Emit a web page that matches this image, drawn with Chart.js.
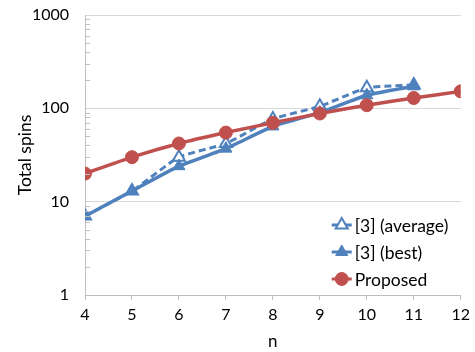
<!DOCTYPE html>
<html lang="en">
  <head>
    <meta charset="UTF-8" />
    <title>Total spins</title>
    <style>
      body { margin: 0; background: white; }
      #wrap { width: 475px; height: 352px; }
    </style>
    <script src="https://cdn.jsdelivr.net/npm/chart.js@4.4.0/dist/chart.umd.min.js"></script>
  </head>
  <body>
    <div id="wrap"><canvas id="spinsChart"></canvas></div>
    <script>
      var nValues = [4, 5, 6, 7, 8, 9, 10, 11, 12];
      var averageSpins = [7, 13, 30, 42, 77, 105, 166, 178];
      var bestSpins = [7, 13, 24, 37, 64, 90, 138, 172];
      var proposedSpins = [20, 30, 42, 55, 70, 88, 108, 129, 152];
      var yTickLabels = [1, 10, 100, 1000];

      var blue = "#4f81bd";
      var red = "#c0504d";
      var fontFamily = "Lato, 'Open Sans', sans-serif";

      function toPoints(values) {
        return values.map((v, i) => ({ x: nValues[i], y: v }));
      }

      // small ticks inside the y axis for 2..9 of each decade
      var minorTicks = {
        id: "minorTicks",
        afterDraw(chart) {
          var ctx = chart.ctx;
          var y = chart.scales.y;
          var left = chart.chartArea.left;
          ctx.save();
          ctx.strokeStyle = "#bfbfbf";
          ctx.lineWidth = 1;
          for (var d = 1; d < 1000; d *= 10) {
            for (var k = 2; k < 10; k++) {
              var py = Math.round(y.getPixelForValue(d * k)) + 0.5;
              ctx.beginPath();
              ctx.moveTo(left, py);
              ctx.lineTo(left + 5, py);
              ctx.stroke();
            }
          }
          ctx.restore();
        },
      };

      var insideLegend = {
        id: "insideLegend",
        afterDraw(chart) {
          var ctx = chart.ctx;
          var area = chart.chartArea;
          var x0 = area.right - 129;
          var rows = [area.bottom - 70, area.bottom - 43, area.bottom - 16];
          ctx.save();
          chart.data.datasets.forEach((ds, i) => {
            var cy = rows[i];
            ctx.strokeStyle = ds.borderColor;
            ctx.lineWidth = 3;
            ctx.setLineDash([]);
            ctx.beginPath();
            ctx.moveTo(x0, cy);
            ctx.lineTo(x0 + 20, cy);
            ctx.stroke();
            ctx.fillStyle = ds.pointBackgroundColor;
            ctx.strokeStyle = ds.pointBorderColor;
            ctx.lineWidth = ds.pointBorderWidth;
            Chart.helpers.drawPoint(ctx, { pointStyle: ds.pointStyle, radius: ds.pointRadius, borderWidth: ds.pointBorderWidth }, x0 + 10, cy);
            ctx.fillStyle = "#000";
            ctx.font = "17.5px " + fontFamily;
            ctx.textBaseline = "middle";
            ctx.fillText(ds.label, x0 + 23, cy + 1);
          });
          ctx.restore();
        },
      };

      new Chart(document.getElementById("spinsChart"), {
        type: "line",
        data: {
          datasets: [
            {
              label: "[3] (average)",
              data: toPoints(averageSpins),
              borderColor: blue,
              borderWidth: 3,
              borderDash: [7, 4],
              pointStyle: "triangle",
              pointRadius: 7,
              pointBackgroundColor: "#fff",
              pointBorderColor: blue,
              pointBorderWidth: 2,
              order: 2,
            },
            {
              label: "[3] (best)",
              data: toPoints(bestSpins),
              borderColor: blue,
              borderWidth: 3.5,
              pointStyle: "triangle",
              pointRadius: 7,
              pointBackgroundColor: blue,
              pointBorderColor: blue,
              pointBorderWidth: 1,
              order: 1,
            },
            {
              label: "Proposed",
              data: toPoints(proposedSpins),
              borderColor: red,
              borderWidth: 3.5,
              pointStyle: "circle",
              pointRadius: 6.5,
              pointBackgroundColor: red,
              pointBorderColor: red,
              pointBorderWidth: 1,
              order: 0,
            },
          ],
        },
        options: {
          responsive: true,
          maintainAspectRatio: false,
          animation: false,
          layout: { padding: { top: 15, right: 13, left: 0, bottom: 0 } },
          plugins: { legend: { display: false }, tooltip: { enabled: false } },
          elements: { line: { tension: 0.15 } },
          scales: {
            x: {
              type: "linear",
              min: 4,
              max: 12,
              afterFit(scale) { scale.height = 57; },
              ticks: { stepSize: 1, color: "#000", padding: 5, font: { family: fontFamily, size: 16 } },
              grid: { drawOnChartArea: false, drawTicks: true, tickLength: 5, color: "#bfbfbf" },
              border: { color: "#bfbfbf" },
              title: { display: true, text: "n", color: "#000", padding: 0, font: { family: fontFamily, size: 17 } },
            },
            y: {
              type: "logarithmic",
              min: 1,
              max: 1000,
              afterFit(scale) { scale.width = 85; },
              afterBuildTicks(scale) {
                scale.ticks = yTickLabels.map((v) => ({ value: v }));
              },
              ticks: {
                color: "#000",
                padding: 2,
                font: { family: fontFamily, size: 16 },
                callback: (v) => String(v),
              },
              grid: { color: "#d9d9d9", drawTicks: true, tickLength: 14, tickColor: "rgba(0,0,0,0)" },
              border: { color: "#bfbfbf" },
              title: { display: true, text: "Total spins", color: "#000", padding: { top: 15 }, font: { family: fontFamily, size: 17.5 } },
            },
          },
        },
        plugins: [minorTicks, insideLegend],
      });
    </script>
  </body>
</html>
